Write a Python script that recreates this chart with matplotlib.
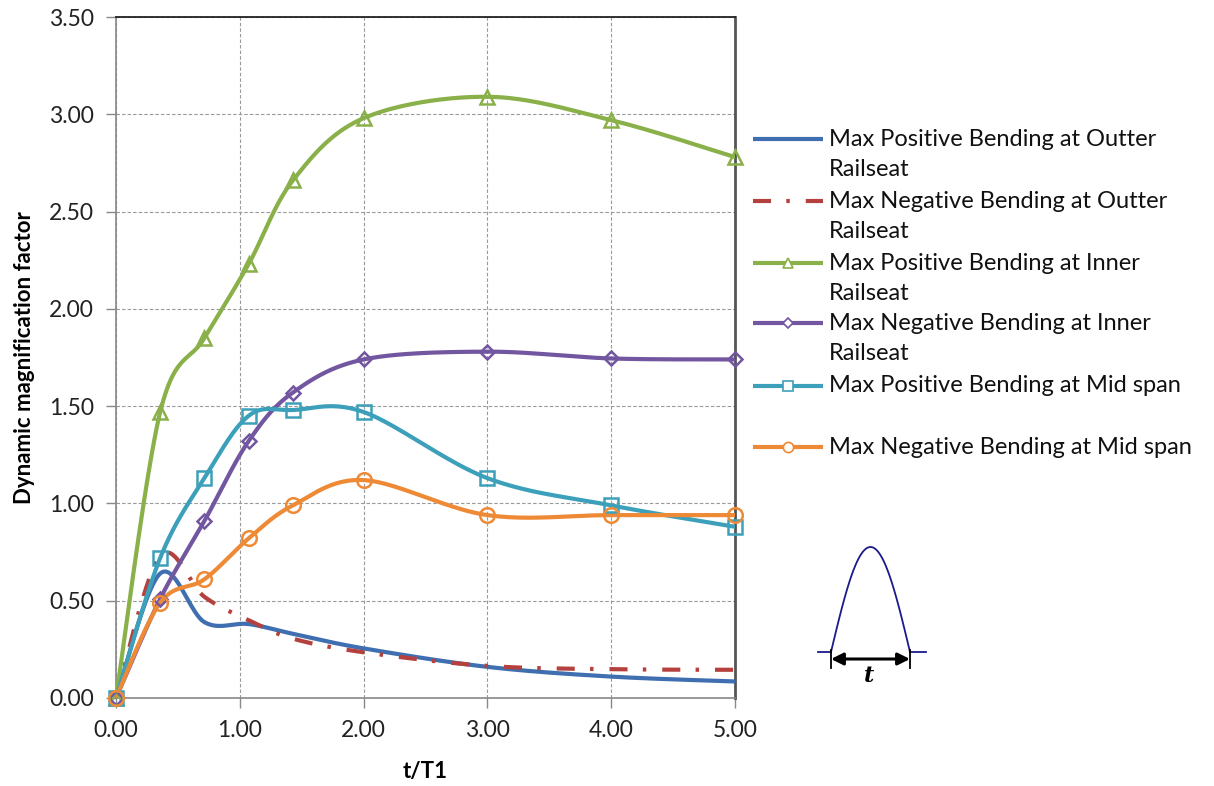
import numpy as np
import matplotlib
matplotlib.use("Agg")
import matplotlib.pyplot as plt

plt.rcParams['font.family'] = ['Lato', 'DejaVu Sans']
plt.rcParams['lines.scale_dashes'] = False

# --- data ---
t_ratio = [0.0, 0.357, 0.714, 1.071, 1.429, 2.0, 3.0, 4.0, 5.0]

pos_outer = [0.0, 0.64, 0.39, 0.38, 0.33, 0.255, 0.16, 0.11, 0.085]
neg_outer = [0.0, 0.73, 0.52, 0.40, 0.305, 0.235, 0.165, 0.148, 0.145]
pos_inner = [0.0, 1.47, 1.85, 2.23, 2.66, 2.98, 3.09, 2.97, 2.78]
neg_inner = [0.0, 0.51, 0.91, 1.32, 1.57, 1.74, 1.78, 1.745, 1.74]
pos_mid = [0.0, 0.72, 1.13, 1.45, 1.48, 1.47, 1.13, 0.99, 0.88]
neg_mid = [0.0, 0.49, 0.61, 0.82, 0.99, 1.12, 0.94, 0.94, 0.94]

labels = ["Max Positive Bending at Outter\nRailseat",
          "Max Negative Bending at Outter\nRailseat",
          "Max Positive Bending at Inner\nRailseat",
          "Max Negative Bending at Inner\nRailseat",
          "Max Positive Bending at Mid span",
          "Max Negative Bending at Mid span"]

x_ticks = [0, 1, 2, 3, 4, 5]
y_ticks = [0, 0.5, 1.0, 1.5, 2.0, 2.5, 3.0, 3.5]


def smooth(x, y, n=40):
    # excel-like smoothed line: cubic bezier through the points
    p = np.column_stack([x, y])
    k = len(p)
    out = []
    s = np.linspace(0, 1, n)[:, None]
    for i in range(k - 1):
        p0 = p[max(i - 1, 0)]
        p1 = p[i]
        p2 = p[i + 1]
        p3 = p[min(i + 2, k - 1)]
        c1 = p1 + (p2 - p0) / 6
        c2 = p2 - (p3 - p1) / 6
        seg = (1 - s) ** 3 * p1 + 3 * (1 - s) ** 2 * s * c1 + 3 * (1 - s) * s ** 2 * c2 + s ** 3 * p2
        out.append(seg if i == 0 else seg[1:])
    out = np.vstack(out)
    return out[:, 0], out[:, 1]


W, H = 1214, 786
fig = plt.figure(figsize=(W / 100, H / 100), dpi=100)
ax = fig.add_axes([116 / W, 1 - 698 / H, (735 - 116) / W, (698 - 17) / H])

series = [
    (pos_outer, '#3F6FB0', None, 'solid'),
    (neg_outer, '#B5413E', None, 'dashdot'),
    (pos_inner, '#8AB04A', '^', 'solid'),
    (neg_inner, '#7356A0', 'D', 'solid'),
    (pos_mid, '#3DA0BA', 's', 'solid'),
    (neg_mid, '#EE8A36', 'o', 'solid'),
]
msizes = {'^': 10.5, 'D': 7.5, 's': 10.5, 'o': 10.5}

for vals, col, mk, ls in series:
    xs, ys = smooth(t_ratio, vals)
    line, = ax.plot(xs, ys, color=col, lw=3, zorder=3, solid_capstyle='round')
    if ls == 'dashdot':
        line.set_dashes((13, 11, 2.5, 11.5))
        line.set_dash_capstyle('butt')
    if mk:
        ax.plot(t_ratio, vals, linestyle='none', marker=mk, ms=msizes[mk],
                mfc='none', mec=col, mew=1.8, zorder=4, clip_on=False)

ax.set_xlim(0, 5)
ax.set_ylim(0, 3.5)
ax.set_xticks(x_ticks)
ax.set_yticks(y_ticks)
ax.xaxis.set_major_formatter(matplotlib.ticker.FormatStrFormatter('%.2f'))
ax.yaxis.set_major_formatter(matplotlib.ticker.FormatStrFormatter('%.2f'))
ax.tick_params(axis='both', direction='out', length=7, width=1, color='#888888',
               labelsize=16.5, labelcolor='#222222')
ax.tick_params(axis='x', pad=9)
ax.tick_params(axis='y', pad=9)
ax.grid(True, color='#999999', linestyle=(0, (2.5, 1.5)), lw=0.8)
ax.set_axisbelow(True)
for sp in ['left', 'bottom']:
    ax.spines[sp].set_color('#888888')
    ax.spines[sp].set_linewidth(1.2)
ax.spines['top'].set_color('#222222')
ax.spines['top'].set_linewidth(1.3)
ax.spines['right'].set_color('#555555')
ax.spines['right'].set_linewidth(2)

ax.set_xlabel('t/T1', fontsize=16, fontweight='bold', labelpad=14)
ax.set_ylabel('Dynamic magnification factor', fontsize=16, fontweight='bold', labelpad=10)

# overlay in pixel coords for legend and pulse sketch
ov = fig.add_axes([0, 0, 1, 1], facecolor='none')
ov.set_xlim(0, W)
ov.set_ylim(H, 0)
ov.axis('off')

leg_y = [139, 201, 263, 323, 386, 447]
for (vals, col, mk, ls), lab, y in zip(series, labels, leg_y):
    hl, = ov.plot([753, 823], [y, y], color=col, lw=3, solid_capstyle='butt')
    if ls == 'dashdot':
        hl.set_dashes((13, 11, 2.5, 11.5))
    if mk:
        ov.plot([788], [y], marker=mk, ms=msizes[mk] * 0.7, mfc='white', mec=col, mew=1.2)
    for j, part in enumerate(lab.split('\n')):
        ov.text(829, y + 30 * j, part, fontsize=17, color='#111111', va='center', ha='left')

# pulse sketch
s = np.linspace(0, 1, 100)
ov.plot(831 + 79 * s, 652 - 105 * np.sin(np.pi * s), color='#1a1a8c', lw=1.3)
ov.plot([818, 831], [652, 652], color='#1a1a8c', lw=1.3)
ov.plot([910, 926], [652, 652], color='#1a1a8c', lw=1.3)
ov.plot([831, 831], [650, 668], color='black', lw=1.3)
ov.plot([910, 910], [650, 668], color='black', lw=1.3)
ov.annotate('', xy=(831, 659), xytext=(910, 659),
            arrowprops=dict(arrowstyle='<|-|>', color='black', lw=2.2,
                            mutation_scale=18, shrinkA=0, shrinkB=0))
ov.text(869, 676, 't', fontsize=16, fontweight='bold', fontstyle='italic',
        family='DejaVu Serif', ha='center', va='center')

fig.savefig('out.png', dpi=100)
